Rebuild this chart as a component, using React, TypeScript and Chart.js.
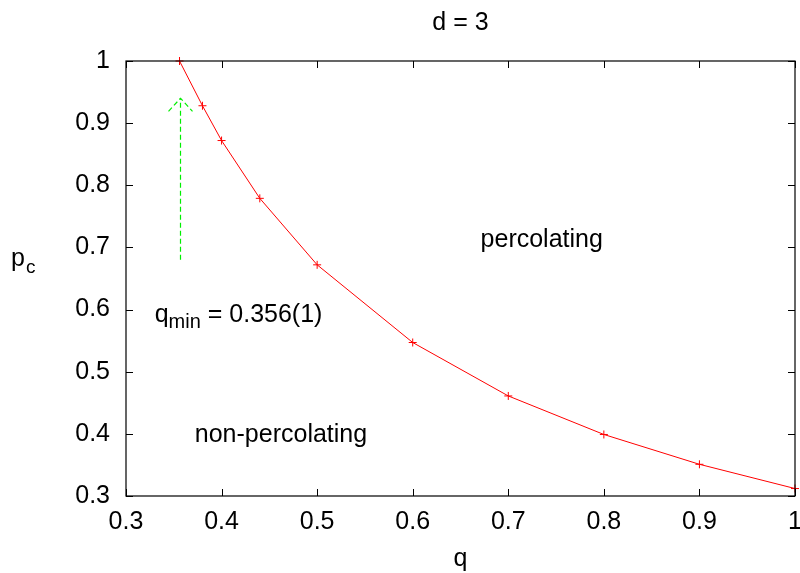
import React, { useEffect, useRef } from "react";
import { Chart, registerables } from "chart.js";

Chart.register(...registerables);

const qValues = [0.356, 0.38, 0.4, 0.44, 0.5, 0.6, 0.7, 0.8, 0.9, 1.0];
const pcValues = [1.0, 0.928, 0.872, 0.779, 0.672, 0.547, 0.461, 0.399, 0.351, 0.312];
const arrowX = [0.356, 0.356];
const arrowY = [0.68, 0.94];
const xTicks = [0.3, 0.4, 0.5, 0.6, 0.7, 0.8, 0.9, 1.0];
const yTicks = [0.3, 0.4, 0.5, 0.6, 0.7, 0.8, 0.9, 1.0];
const titleText = "d = 3";
const xLabel = "q";
const yLabelMain = "p";
const yLabelSub = "c";

const FONT = "'Liberation Sans', Arial, sans-serif";

const decorPlugin = {
  id: "decor",
  afterDraw(chart: any) {
    const ctx = chart.ctx;
    const { left, right, top, bottom } = chart.chartArea;
    const xs = chart.scales.x;
    const ys = chart.scales.y;
    ctx.save();
    // box
    ctx.strokeStyle = "#000";
    ctx.lineWidth = 1.2;
    ctx.strokeRect(left, top, right - left, bottom - top);
    // inward ticks, mirrored
    ctx.lineWidth = 1;
    const tl = 7;
    ctx.beginPath();
    xTicks.forEach((v) => {
      const px = Math.round(xs.getPixelForValue(v)) + 0.5;
      ctx.moveTo(px, bottom);
      ctx.lineTo(px, bottom - tl);
      ctx.moveTo(px, top);
      ctx.lineTo(px, top + tl);
    });
    yTicks.forEach((v) => {
      const py = Math.round(ys.getPixelForValue(v)) + 0.5;
      ctx.moveTo(left, py);
      ctx.lineTo(left + tl, py);
      ctx.moveTo(right, py);
      ctx.lineTo(right - tl, py);
    });
    ctx.stroke();

    // arrow (green dashed)
    const ax = Math.round(xs.getPixelForValue(arrowX[0])) + 0.5;
    const ay0 = ys.getPixelForValue(arrowY[0]);
    const ay1 = ys.getPixelForValue(arrowY[1]);
    ctx.strokeStyle = "#00ee00";
    ctx.lineWidth = 1.2;
    ctx.setLineDash([5, 3]);
    ctx.beginPath();
    ctx.moveTo(ax, ay0);
    ctx.lineTo(ax, ay1);
    ctx.stroke();
    ctx.beginPath();
    ctx.moveTo(ax - 12, ay1 + 13);
    ctx.lineTo(ax, ay1);
    ctx.lineTo(ax + 12, ay1 + 13);
    ctx.stroke();
    ctx.setLineDash([]);

    // texts
    ctx.fillStyle = "#000";
    ctx.textBaseline = "alphabetic";
    ctx.textAlign = "center";
    ctx.font = `25px ${FONT}`;
    ctx.fillText(titleText, (left + right) / 2, 30);
    ctx.fillText(xLabel, (left + right) / 2, 566);

    ctx.textAlign = "left";
    ctx.font = `25px ${FONT}`;
    ctx.fillText(yLabelMain, 11, 266);
    ctx.font = `19px ${FONT}`;
    ctx.fillText(yLabelSub, 26, 273);

    ctx.font = `25px ${FONT}`;
    ctx.fillText("percolating", xs.getPixelForValue(0.671), ys.getPixelForValue(0.7));
    ctx.fillText("non-percolating", xs.getPixelForValue(0.372), ys.getPixelForValue(0.387));
    // q_min
    let px = xs.getPixelForValue(0.33);
    const py = ys.getPixelForValue(0.58);
    ctx.fillText("q", px, py);
    px += ctx.measureText("q").width;
    ctx.font = `20px ${FONT}`;
    ctx.fillText("min", px, py + 6);
    px += ctx.measureText("min").width;
    ctx.font = `25px ${FONT}`;
    ctx.fillText(" = 0.356(1)", px, py);
    ctx.restore();
  },
};

export default function App() {
  const ref = useRef<HTMLCanvasElement>(null);
  useEffect(() => {
    document.body.style.margin = "0";
    const chart = new Chart(ref.current!, {
      type: "line",
      data: {
        datasets: [
          {
            data: qValues.map((q, i) => ({ x: q, y: pcValues[i] })),
            borderColor: "#ff0000",
            backgroundColor: "#ff0000",
            borderWidth: 1,
            pointStyle: "cross",
            pointRadius: 4,
            pointBorderWidth: 1,
            tension: 0,
            clip: false as any,
          },
        ],
      },
      plugins: [decorPlugin],
      options: {
        animation: false,
        responsive: false,
        maintainAspectRatio: false,
        layout: { padding: { top: 61, right: 3, left: 0, bottom: 0 } },
        plugins: { legend: { display: false }, tooltip: { enabled: false } },
        scales: {
          x: {
            type: "linear",
            min: 0.3,
            max: 1.0,
            afterBuildTicks: (s: any) => {
              s.ticks = xTicks.map((v) => ({ value: v }));
            },
            afterFit: (s: any) => {
              s.height = 77;
              s.paddingLeft = 0;
              s.paddingRight = 0;
            },
            grid: { display: false, drawTicks: false },
            border: { display: false },
            ticks: {
              color: "#000",
              padding: 11,
              maxRotation: 0,
              font: { family: FONT, size: 25 },
              callback: (v: any) => String(Number(Number(v).toFixed(2))),
            },
          },
          y: {
            type: "linear",
            min: 0.3,
            max: 1.0,
            afterBuildTicks: (s: any) => {
              s.ticks = yTicks.map((v) => ({ value: v }));
            },
            afterFit: (s: any) => {
              s.width = 126;
              s.paddingTop = 0;
              s.paddingBottom = 0;
            },
            grid: { display: false, drawTicks: false },
            border: { display: false },
            ticks: {
              color: "#000",
              padding: 16,
              font: { family: FONT, size: 25 },
              callback: (v: any) => String(Number(Number(v).toFixed(2))),
            },
          },
        },
      },
    });
    return () => chart.destroy();
  }, []);
  return (
    <div style={{ position: "absolute", left: 0, top: 0, width: 800, height: 573 }}>
      <canvas ref={ref} width={800} height={573} style={{ width: 800, height: 573 }} />
    </div>
  );
}
